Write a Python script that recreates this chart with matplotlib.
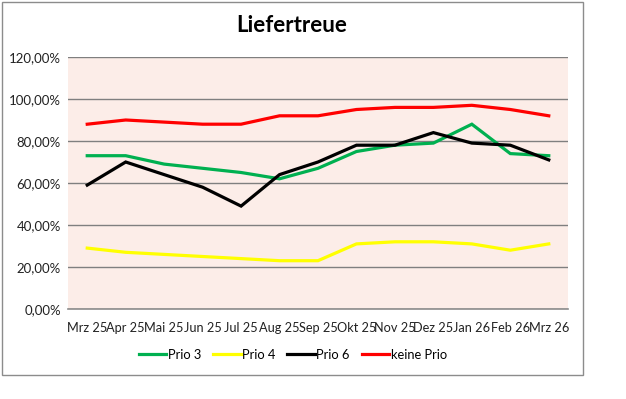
import matplotlib
matplotlib.use("Agg")
import matplotlib.pyplot as plt
from matplotlib.patches import Rectangle

months = ["Mrz 25", "Apr 25", "Mai 25", "Jun 25", "Jul 25", "Aug 25", "Sep 25",
          "Okt 25", "Nov 25", "Dez 25", "Jan 26", "Feb 26", "Mrz 26"]
prio3 = [73, 73, 69, 67, 65, 62, 67, 75, 78, 79, 88, 74, 73]
prio4 = [29, 27, 26, 25, 24, 23, 23, 31, 32, 32, 31, 28, 31]
prio6 = [59, 70, 64, 58, 49, 64, 70, 78, 78, 84, 79, 78, 71]
keine = [88, 90, 89, 88, 88, 92, 92, 95, 96, 96, 97, 95, 92]
yticks = [0, 20, 40, 60, 80, 100, 120]

plt.rcParams['font.family'] = ['Lato', 'DejaVu Sans']

W, H = 626, 399
fig = plt.figure(figsize=(W / 100, H / 100), dpi=100)
fig.patch.set_facecolor("white")

# chart frame
fig.add_artist(Rectangle((2 / W, 1 - 375 / H), 581 / W, 373 / H, transform=fig.transFigure,
                         fill=False, edgecolor="#8c8c8c", linewidth=1))

left, right, top, bottom = 68, 568, 57, 309
ax = fig.add_axes([left / W, 1 - bottom / H, (right - left) / W, (bottom - top) / H])
ax.set_facecolor("#fcede8")

x = list(range(len(months)))
series = [(prio3, "#00b050", "Prio 3"), (prio4, "#ffff00", "Prio 4"),
          (prio6, "#000000", "Prio 6"), (keine, "#ff0000", "keine Prio")]
for vals, col, lab in series:
    ax.plot(x, vals, color=col, linewidth=2.3, label=lab, solid_joinstyle="miter", zorder=3)

ax.set_xlim(-0.5, len(months) - 0.5)
ax.set_ylim(0, 120)
ax.set_yticks(yticks)
ax.set_yticklabels([f"{v},00%" for v in yticks], fontsize=9.5, color="#222222")
ax.set_xticks(x)
ax.set_xticklabels(months, fontsize=9.2, color="#222222")
ax.tick_params(length=0, pad=5)
ax.tick_params(axis="x", pad=9)
ax.grid(axis="y", color="#7f7f7f", linewidth=1)
ax.set_axisbelow(True)
for s in ["left", "right", "top"]:
    ax.spines[s].set_visible(False)
ax.spines["bottom"].set_color("#8c8c8c")
ax.spines["bottom"].set_linewidth(1.2)

fig.text(292 / W, 1 - 26 / H, "Liefertreue", ha="center", va="center",
         fontsize=16, fontweight="bold", color="black")

leg = fig.legend(loc="center", bbox_to_anchor=(293 / W, 1 - 355 / H), ncol=4, frameon=False,
                 fontsize=9.3, handlelength=2.1, handletextpad=0.15, columnspacing=0.9,
                 borderpad=0, borderaxespad=0)

fig.savefig("out.png", dpi=100, facecolor="white")
